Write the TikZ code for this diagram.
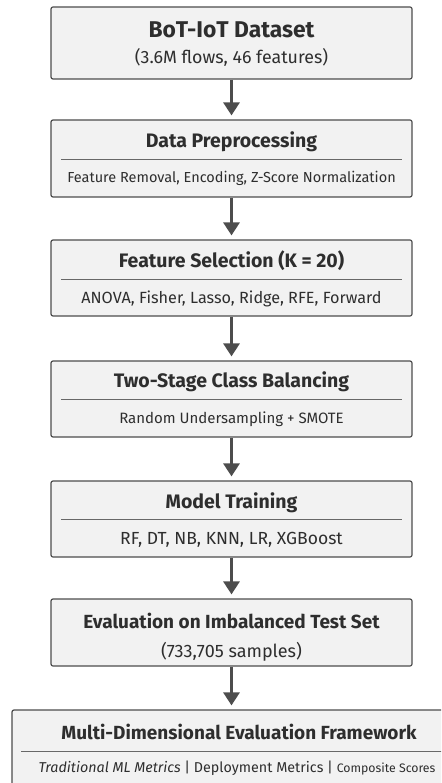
\documentclass[tikz,border=0pt]{standalone}
\usepackage{fontspec}
\setmainfont{Fira Sans}
\usetikzlibrary{arrows.meta}

\definecolor{boxfill}{HTML}{F2F2F2}
\definecolor{boxline}{HTML}{4D4D4D}
\definecolor{txt}{HTML}{2E2E2E}

\begin{document}
\begin{tikzpicture}[x=1pt,y=-1pt,>={Triangle[width=16pt,length=13pt]},
  stage/.style={draw=boxline,fill=boxfill,line width=1.2pt,rounded corners=2pt,minimum width=361pt},
  title/.style={text=txt,anchor=base,inner sep=0pt,font=\bfseries\fontsize{#1}{#1}\selectfont},
  title/.default=19.5,
  sub/.style={text=txt,anchor=base,inner sep=0pt,font=\fontsize{#1}{#1}\selectfont},
  sub/.default=15,
  sep/.style={draw=boxline!85,line width=0.7pt},
  flow/.style={->,draw=boxline,line width=3pt}]
\useasboundingbox (0,0) rectangle (441,783);
\clip (0,0) rectangle (441,783);

\node[stage,minimum height=72pt] (dataset) at (231.5,43) {};
\node[title=22.8] (datasetT) at (231.5,37.3) {BoT-IoT Dataset};
\node[sub=17.8] (datasetS) at (231.5,64) {(3.6M flows, 46 features)};

\node[stage,minimum height=77pt] (prep) at (231.5,158.5) {};
\node[title] (prepT) at (231.5,147.3) {Data Preprocessing};
\node[sub=14.5] (prepS) at (231.5,182.7) {Feature Removal, Encoding, Z-Score Normalization};
\draw[sep] ([xshift=11pt]prep.west |- 0,159) -- ([xshift=-11pt]prep.east |- 0,159);

\node[stage,minimum height=76pt] (select) at (231.5,278) {};
\node[title] (selectT) at (231.5,267.7) {Feature Selection (K = 20)};
\node[sub=16.2] (selectS) at (231.5,303.3) {ANOVA, Fisher, Lasso, Ridge, RFE, Forward};
\draw[sep] ([xshift=11pt]select.west |- 0,279) -- ([xshift=-11pt]select.east |- 0,279);

\node[stage,minimum height=76pt] (balance) at (231.5,399) {};
\node[title] (balanceT) at (231.5,387.7) {Two-Stage Class Balancing};
\node[sub] (balanceS) at (231.5,423.3) {Random Undersampling + SMOTE};
\draw[sep] ([xshift=11pt]balance.west |- 0,399) -- ([xshift=-11pt]balance.east |- 0,399);

\node[stage,minimum height=76pt] (train) at (231.5,519) {};
\node[title] (trainT) at (231.5,508.3) {Model Training};
\node[sub=17.5] (trainS) at (231.5,544.3) {RF, DT, NB, KNN, LR, XGBoost};
\draw[sep] ([xshift=11pt]train.west |- 0,519) -- ([xshift=-11pt]train.east |- 0,519);

\node[stage,minimum height=67pt] (test) at (231.5,632.5) {};
\node[title=19] (testT) at (231.5,628.3) {Evaluation on Imbalanced Test Set};
\node[sub=18] (testS) at (231.5,657.3) {(733,705 samples)};

% last box runs off the page on the right
\node[stage,minimum width=454pt,minimum height=90pt] (frame) at (239,755) {};
\node[title=19] (frameT) at (239,739.3) {Multi-Dimensional Evaluation Framework};
\node[sub=14.3] (frameS) at (237,772.7) {\textit{Traditional ML Metrics} | Deployment Metrics | {\fontsize{12.3}{12.3}\selectfont Composite Scores}};
\draw[sep] ([xshift=10pt]frame.west |- 0,751) -- ([xshift=-10pt]frame.east |- 0,751);

\draw[flow] (dataset) -- ([yshift=4pt]prep.north);
\draw[flow] (prep) -- ([yshift=4pt]select.north);
\draw[flow] (select) -- ([yshift=4pt]balance.north);
\draw[flow] (balance) -- ([yshift=4pt]train.north);
\draw[flow] (train) -- ([yshift=4pt]test.north);
\draw[flow] (test) -- ([yshift=4pt]test.south |- frame.north);
\end{tikzpicture}
\end{document}
